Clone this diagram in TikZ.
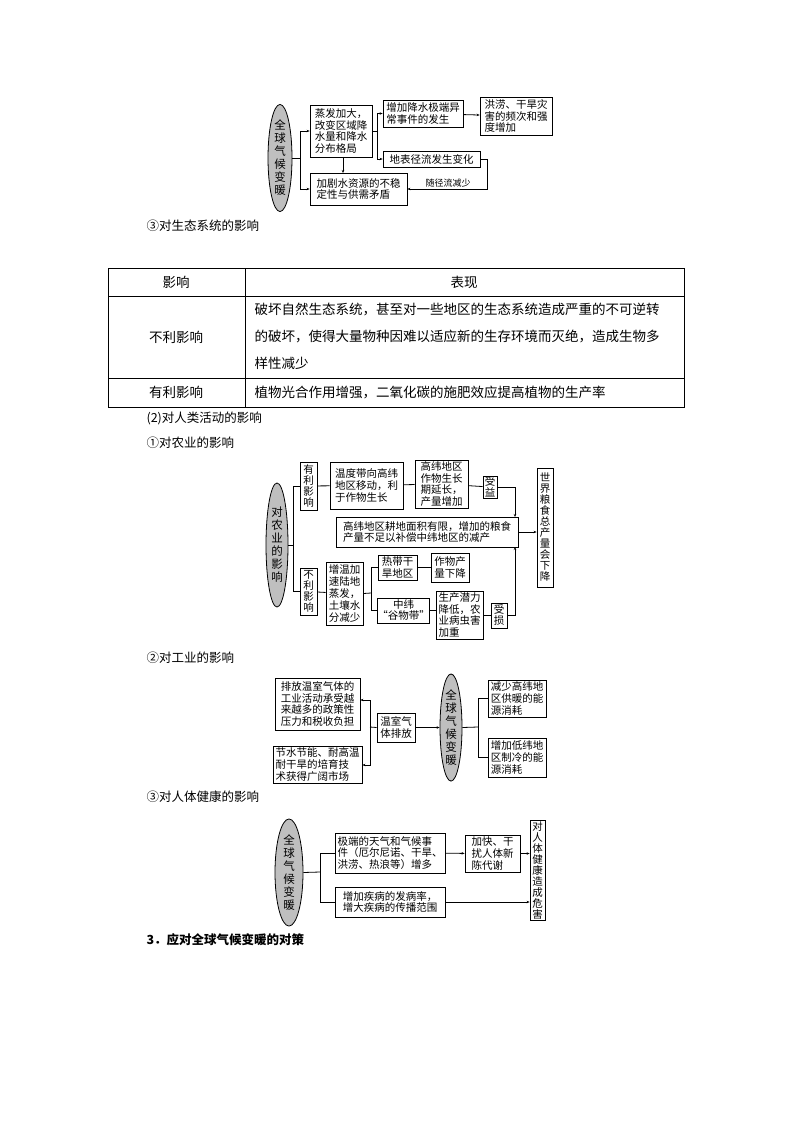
\documentclass[tikz,border=0pt]{standalone}
\usepackage{fontspec}
\setmainfont{Noto Sans CJK SC}
\usetikzlibrary{arrows.meta,shapes.geometric}
\tikzset{
 bx/.style={draw,thick,inner sep=0pt,align=left,font=\fontsize{10.5}{11.8}\selectfont},
 vb/.style={bx,align=center,font=\fontsize{10.5}{11}\selectfont},
 el/.style={draw,thick,ellipse,fill=black!25,inner sep=0pt,align=center,font=\fontsize{11.5}{13}\selectfont},
 ln/.style={thick},
 ar/.style={thick,-{Stealth[length=3pt,width=2.5pt]}},
 hd/.style={anchor=west,font=\fontsize{12.5}{14}\selectfont},
 tb/.style={font=\fontsize{13.5}{15}\selectfont}
}
\newcommand\bx[6]{\node[bx,minimum width={(#4-#2)*1pt},minimum height={(#5-#3)*1pt}] (#1) at ({(#2+#4)/2},{(#3+#5)/2}) {#6};}
\newcommand\vbx[6]{\node[vb,minimum width={(#4-#2)*1pt},minimum height={(#5-#3)*1pt}] (#1) at ({(#2+#4)/2},{(#3+#5)/2}) {#6};}
\newcommand\elp[6]{\node[el,minimum width={(#4-#2)*1pt},minimum height={(#5-#3)*1pt}] (#1) at ({(#2+#4)/2},{(#3+#5)/2}) {#6};}
\begin{document}
\begin{tikzpicture}[x=1pt,y=-1pt]
\useasboundingbox (0,0) rectangle (794,1123);
% ---------- diagram 1
\elp{e1}{268}{108}{292}{208}{全\\球\\气\\候\\变\\暖}
\bx{a1}{310}{105}{372}{157}{蒸发加大，\\改变区域降\\水量和降水\\分布格局}
\bx{b1}{383}{100}{463}{127}{增加降水极端异\\常事件的发生}
\bx{c1}{480}{97}{552}{135}{洪涝、干旱灾\\害的频次和强\\度增加}
\bx{d1}{383}{151}{480}{167}{地表径流发生变化}
\bx{f1}{310}{173}{407}{205}{加剧水资源的不稳\\定性与供需矛盾}
\coordinate (j1) at (300,158);
\draw[ln] (e1.east) -- (j1);
\draw[ar] (j1) |- (a1.west);
\draw[ar] (j1) |- (f1.west);
\coordinate (j2) at (377,131);
\draw[ln] (a1.east) -- (j2);
\draw[ar] (j2) |- (b1.west);
\draw[ar] (j2) |- (d1.west);
\draw[ar] (b1) -- (c1);
\draw[ar] (343,157) -- (343,173);
\coordinate (j3) at (487,159);
\draw[ar] (d1.east) -- (j3) |- (f1.east);
\node[font=\fontsize{9}{10}\selectfont] (l1) at (448,183) {随径流减少};
% ---------- texts
\node[hd] (t1) at (143,226) {③对生态系统的影响};
% table
\draw[thin] (108,268) rectangle (684,407);
\draw[thin] (108,296) -- (684,296) (108,378) -- (684,378) (245,268) -- (245,407);
\node[tb] (h1) at (176,282) {影响};
\node[tb] (h2) at (464,282) {表现};
\node[tb] (r1) at (176,337) {不利影响};
\node[tb,anchor=west] (r1a) at (251,309) {破坏自然生态系统，甚至对一些地区的生态系统造成严重的不可逆转};
\node[tb,anchor=west] (r1b) at (251,336) {的破坏，使得大量物种因难以适应新的生存环境而灭绝，造成生物多};
\node[tb,anchor=west] (r1c) at (251,363) {样性减少};
\node[tb] (r2) at (176,392) {有利影响};
\node[tb,anchor=west] (r2a) at (251,392) {植物光合作用增强，二氧化碳的施肥效应提高植物的生产率};
\node[hd] (t2) at (143,418) {(2)对人类活动的影响};
\node[hd] (t3) at (143,443) {①对农业的影响};
% ---------- diagram 2
\elp{e2}{266}{483}{288}{607}{对\\农\\业\\的\\影\\响}
\vbx{p1}{300}{462}{317}{510}{有\\利\\影\\响}
\vbx{p2}{300}{568}{317}{615}{不\\利\\影\\响}
\bx{w1}{330}{462}{403}{509}{温度带向高纬\\地区移动，利\\于作物生长}
\bx{w2}{415}{460}{468}{508}{高纬地区\\作物生长\\期延长，\\产量增加}
\vbx{w3}{483}{476}{497}{498}{受\\益}
\vbx{w4}{537}{468}{553}{587}{世\\界\\粮\\食\\总\\产\\量\\会\\下\\降}
\bx{w5}{336}{517}{518}{547}{高纬地区耕地面积有限，增加的粮食\\产量不足以补偿中纬地区的减产}
\bx{n1}{326}{562}{363}{625}{增温加\\速陆地\\蒸发，\\土壤水\\分减少}
\bx{n2}{378}{555}{417}{580}{热带干\\旱地区}
\bx{n3}{431}{553}{469}{582}{作物产\\量下降}
\vbx{n4}{380}{598}{427}{623}{中纬\\“谷物带”}
\bx{n5}{436}{591}{483}{639}{生产潜力\\降低，农\\业病虫害\\加重}
\vbx{n6}{491}{603}{507}{628}{受\\损}
\coordinate (k1) at (293,545);
\draw[ln] (e2.east) -- (k1);
\draw[ln] (k1) |- (p1.west);
\draw[ln] (k1) |- (p2.west);
\draw[ln] (p1) -- (w1);
\draw[ln] (w1) -- (w2);
\draw[ln] (w2) -- (w3);
\draw[ar] (w3.east) -| (515,517);
\draw[ar] (n6.east) -| (515,547);
\draw[ar] (w5.east) -- (w4.west |- w5.east);
\draw[ln] (p2) -- (n1);
\coordinate (k2) at (371,593);
\draw[ln] (n1.east) -- (k2);
\draw[ln] (k2) |- (n2.west);
\draw[ln] (k2) |- (n4.west);
\draw[ln] (n2) -- (n3);
\draw[ln] (n4) -- (n4 -| n5.west);
\draw[ln] (n5.east |- n6) -- (n6);
% ---------- diagram 3
\node[hd] (t4) at (143,658) {②对工业的影响};
\bx{i1}{275}{678}{360}{730}{排放温室气体的\\工业活动承受越\\来越多的政策性\\压力和税收负担}
\bx{i2}{273}{746}{362}{783}{节水节能、耐高温\\耐干旱的培育技\\术获得广阔市场}
\bx{i3}{377}{713}{415}{742}{温室气\\体排放}
\elp{e3}{440}{682}{462}{773}{全\\球\\气\\候\\变\\暖}
\bx{i4}{488}{680}{546}{717}{减少高纬地\\区供暖的能\\源消耗}
\bx{i5}{488}{738}{546}{777}{增加低纬地\\区制冷的能\\源消耗}
\coordinate (m1) at (370,727);
\draw[ln] (i3.west) -- (m1);
\draw[ar] (m1) |- (i1.east |- 0,700);
\draw[ar] (m1) |- (i2.east |- 0,765);
\draw[ar] (i3.east) -- (e3.west);
\coordinate (m2) at (478,727);
\draw[ln] (e3.east) -- (m2);
\draw[ln] (m2) |- (i4.west);
\draw[ln] (m2) |- (i5.west);
% ---------- diagram 4
\node[hd] (t5) at (143,797) {③对人体健康的影响};
\elp{e4}{275}{827}{303}{918}{全\\球\\气\\候\\变\\暖}
\bx{h4}{335}{833}{445}{873}{极端的天气和气候事\\件（厄尔尼诺、干旱、\\洪涝、热浪等）增多}
\bx{h5}{465}{835}{520}{872}{加快、干\\扰人体新\\陈代谢}
\vbx{h6}{530}{820}{545}{920}{对\\人\\体\\健\\康\\造\\成\\危\\害}
\bx{h7}{335}{887}{445}{917}{增加疾病的发病率，\\增大疾病的传播范围}
\coordinate (q1) at (320,872);
\draw[ln] (e4.east) -- (q1);
\draw[ln] (q1) |- (h4.west);
\draw[ln] (q1) |- (h7.west);
\draw[ar] (h4) -- (h5);
\draw[ar] (h5.east) -- (h6.west |- h5.east);
\draw[ar] (h7.east) -- (h6.west |- h7.east);
\node[hd,font=\fontsize{12.5}{14}\selectfont\bfseries] (t6) at (143,940) {3．应对全球气候变暖的对策};
\end{tikzpicture}
\end{document}
